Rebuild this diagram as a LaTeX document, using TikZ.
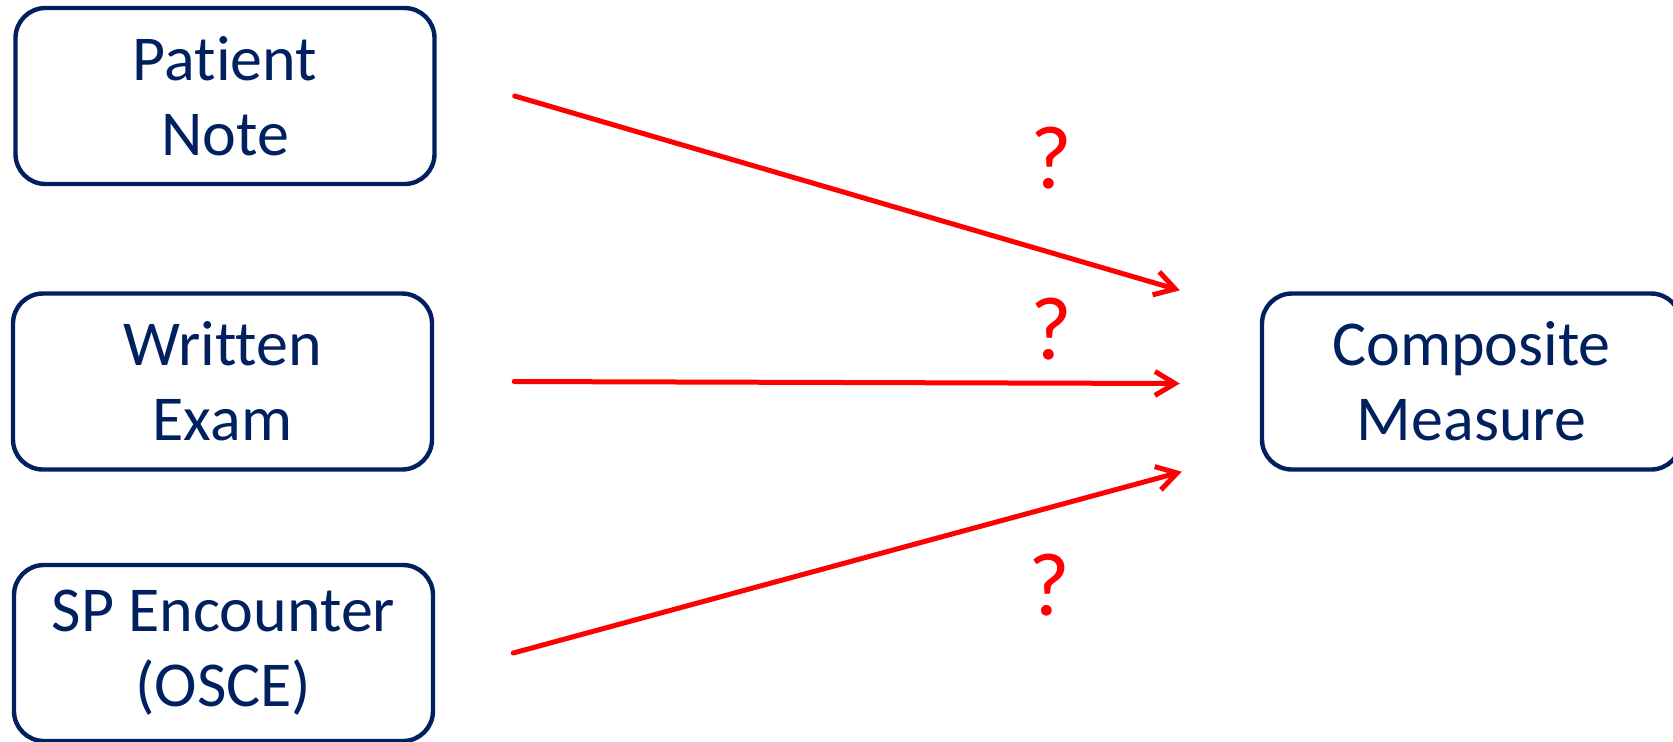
\documentclass[tikz,border=0pt]{standalone}
\usepackage{fontspec}
\setmainfont{Carlito}[Ligatures=NoCommon]
\usetikzlibrary{positioning, arrows.meta, calc}
\definecolor{navy}{RGB}{0,32,96}
\begin{document}
\begin{tikzpicture}[
    x=0.5pt, y=-0.5pt,
    measure/.style={draw=navy, line width=2.2pt, rounded corners=15pt, text=navy,
                    font=\fontsize{32}{37.5}\selectfont, align=center,
                    minimum width=209.5pt, minimum height=88pt, inner sep=0pt},
    link/.style={draw=red, line width=2.5pt, line cap=round,
                 -{Straight Barb[length=10pt, width=12pt, line width=2.5pt]}},
    query/.style={text=red, font=\fontsize{45}{50}\selectfont, inner sep=0pt}
]
    \clip (0,0) rectangle (1673,741);

    % --- Measures ---
    \node[measure] (note) at (225,  96)    {Patient\\Note};
    \node[measure] (exam) at (222.5,381.5) {Written\\Exam};
    \node[measure] (osce) at (223.5,653)   {SP Encounter\\(OSCE)};
    \node[measure] (comp) at (1471.5,381.5) {Composite\\Measure};

    % --- Free ends ---
    \coordinate (noteout) at ($(note.east)+(78,0)$);
    \coordinate (examout) at ($(exam.east)+(80,0)$);
    \coordinate (osceout) at ($(osce.east)+(78,0)$);
    \coordinate (compin1) at ($(comp.north west)+(-80,-1)$);
    \coordinate (compin2) at ($(comp.west)+(-80,2)$);
    \coordinate (compin3) at ($(comp.south west)+(-78,0)$);

    % --- Links ---
    \draw[link] (noteout) -- (compin1);
    \draw[link] (examout) -- (compin2);
    \draw[link] (osceout) -- (compin3);

    % --- Unknown weights ---
    \node[query] (q1) at (1051,158) {?};
    \node[query] (q2) at (1051,329) {?};
    \node[query] (q3) at (1049,585) {?};
\end{tikzpicture}
\end{document}
